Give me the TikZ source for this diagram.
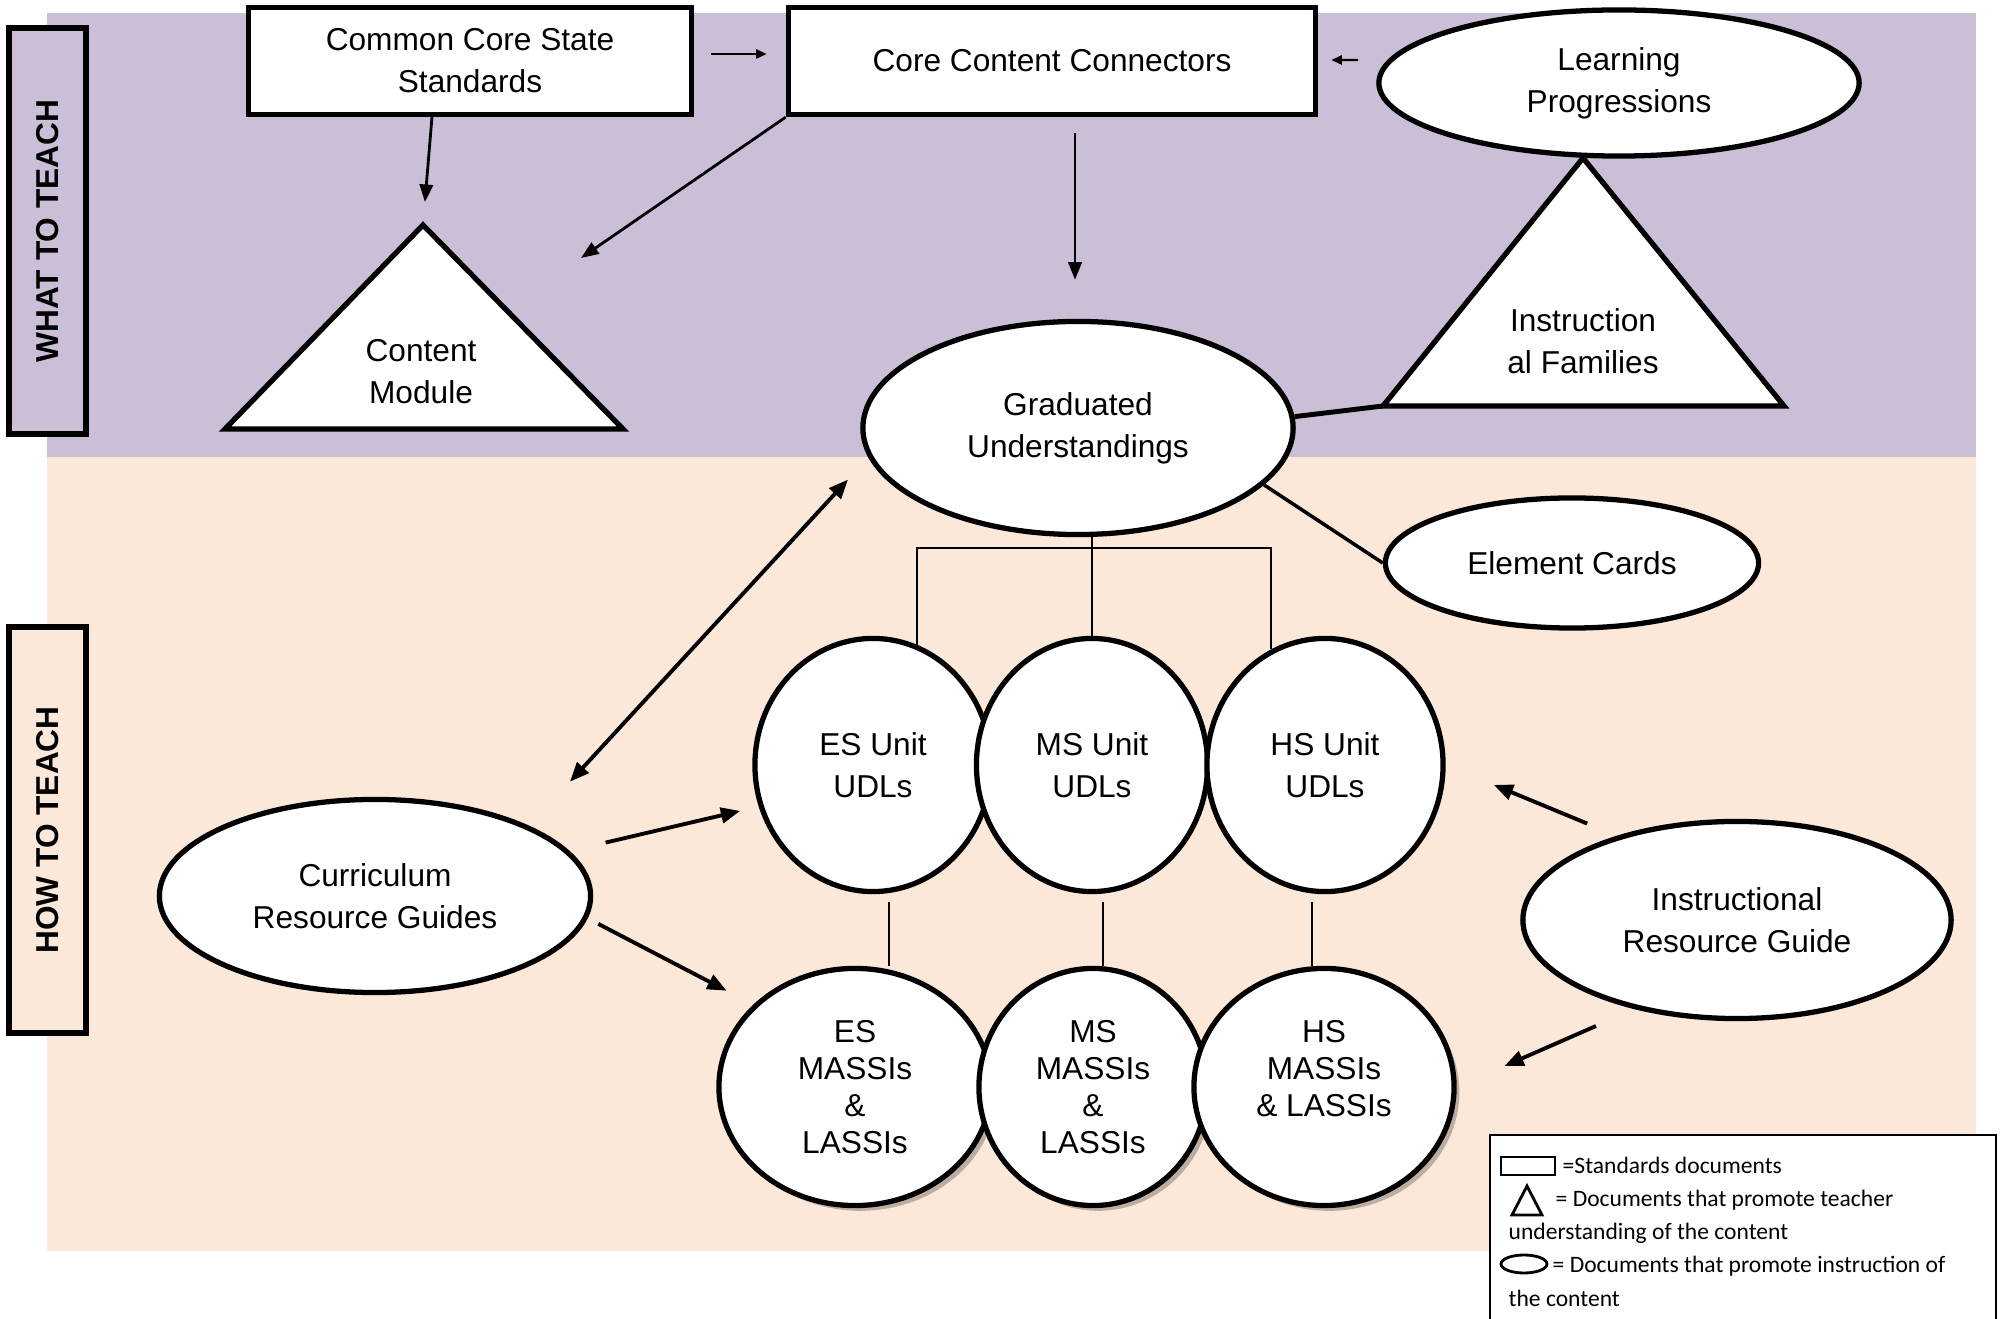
\documentclass[tikz,border=0pt]{standalone}
\usepackage{fontspec}
\setmainfont{Liberation Sans}
\newfontfamily\keyfont{Carlito}
\usetikzlibrary{shapes.geometric,arrows.meta,shadows}

\definecolor{whatC}{RGB}{203,191,216}
\definecolor{howC}{RGB}{252,232,217}

\begin{document}
\begin{tikzpicture}
  [x=0.01cm,y=-0.01cm,
   font=\fontsize{9}{12}\selectfont,
   stdN/.style={rectangle,draw,line width=1.5pt,fill=white,align=center},
   instrN/.style={ellipse,draw,line width=1.5pt,fill=white,align=center,inner sep=0pt},
   massiN/.style={font=\fontsize{9}{10.5}\selectfont,
                  drop shadow={shadow xshift=1.5pt,shadow yshift=-1.5pt,fill=black,opacity=0.25}},
   teachT/.style={draw,line width=1.5pt,fill=white,line join=miter},
   sideN/.style={draw,line width=1.5pt,rotate=90,font=\bfseries\fontsize{9}{11}\selectfont,
                 minimum width=4.06cm,minimum height=0.77cm},
   arr/.style={-{Triangle[length=5pt,width=3.8pt]},line width=0.8pt},
   bigarr/.style={-{Triangle[length=5.5pt,width=4.4pt]},line width=1.1pt},
   dblarr/.style={{Triangle[length=5.5pt,width=4.4pt]}-{Triangle[length=5.5pt,width=4.4pt]},line width=1.1pt},
   smallarr/.style={-{Triangle[length=3pt,width=2.6pt]},line width=0.6pt},
   thinL/.style={line width=0.5pt},
   keyT/.style={anchor=west,font=\keyfont\fontsize{6.7}{8}\selectfont,inner sep=0pt,
                text height=1.6ex,text depth=0.4ex}
  ]

  \useasboundingbox (0,0) rectangle (2002,1319);

  % bands
  \fill[whatC] (47,13) rectangle (1976,457);
  \fill[howC] (47,457) rectangle (1976,1251);

  \node[sideN,fill=whatC] (what) at (47.5,231) {WHAT TO TEACH};
  \node[sideN,fill=howC] (how) at (47.5,830) {HOW TO TEACH};

  % what to teach
  \node[stdN,minimum width=4.43cm,minimum height=1.07cm] (ccss) at (470,61) {Common Core State\\Standards};
  \node[stdN,minimum width=5.27cm,minimum height=1.07cm] (ccc) at (1052,61) {Core Content Connectors};

  \draw[teachT] (423,225) coordinate (cmtop) -- (225,429) -- (623,429) -- cycle;
  \node[align=center] (cm) at (421,372) {Content\\Module};
  \draw[teachT] (1583,158) coordinate (iftop) -- (1383,406) coordinate (ifleft) -- (1784,406) -- cycle;
  \node[align=center] (instf) at (1583,341) {Instruction\\al Families};

  \node[instrN,minimum width=4.80cm,minimum height=1.46cm] (lp) at (1619,83) {Learning\\Progressions};
  \node[instrN,minimum width=4.30cm,minimum height=2.13cm] (gu) at (1078,428) {Graduated\\Understandings};
  \node[instrN,minimum width=3.73cm,minimum height=1.30cm] (ec) at (1572,563) {Element Cards};

  % how to teach
  \foreach \n/\x/\w/\lv in {esu/873/2.36/ES,msu/1092/2.31/MS,hsu/1325/2.36/HS} {
     \node[instrN,minimum width=\w cm,minimum height=2.53cm] (\n) at (\x,765) {\lv{} Unit\\UDLs};
  }

  \foreach \n/\x/\w/\txt in {esm/855/2.72/{ES\\MASSIs\\\&\\LASSIs},msm/1093/2.28/{MS\\MASSIs\\\&\\LASSIs},hsm/1324/2.60/{HS\\MASSIs\\\& LASSIs\\\mbox{}}} {
     \node[instrN,massiN,minimum width=\w cm,minimum height=2.37cm] (\n) at (\x,1087) {\txt};
  }

  \node[instrN,minimum width=4.31cm,minimum height=1.93cm] (crg) at (375,896) {Curriculum\\Resource Guides};
  \node[instrN,minimum width=4.28cm,minimum height=1.97cm] (irg) at (1737,920) {Instructional\\Resource Guide};

  % links
  \draw[smallarr,shorten <=0.17cm,shorten >=0.19cm] ([yshift=0.07cm]ccss.east) -- ([yshift=0.07cm]ccc.west);
  \draw[smallarr,shorten <=0.18cm,shorten >=0.13cm] ([yshift=0.23cm]lp.west) -- ([yshift=0.01cm]ccc.east);
  \draw[arr,shorten >=0.23cm] ([xshift=-0.38cm]ccss.south) -- (cmtop);
  \coordinate (cmside) at (581,258);
  \draw[arr] (ccc.south west) -- (cmside);
  \draw[arr,shorten <=0.16cm,shorten >=0.39cm] ([xshift=0.23cm]ccc.south) -- ([xshift=0.23cm]ccc.south |- gu.north);
  \draw[line width=1.4pt] (gu.3) -- (ifleft);
  \draw[line width=1pt] (gu.-17) -- (ec.west);

  \path (gu.south) ++(0,11) coordinate (split);
  \draw[thinL] (esu.70) |- (split) -| (hsu.115);
  \draw[thinL] (msu.north |- gu.south) -- (msu.north);
  \foreach \up/\lo/\dx in {esu/esm/0.16,msu/msm/0.11,hsu/hsm/-0.13} {
     \draw[thinL] ([xshift=\dx cm,yshift=-0.08cm]\up.south) -- ([xshift=\dx cm]\up.south |- \lo.north);
  }

  \draw[dblarr,shorten <=0.6cm,shorten >=0.3cm] (crg.north east) -- (gu.188);
  \draw[bigarr,shorten <=0.37cm,shorten >=0.19cm] (crg.13) -- (esu.200);
  \draw[bigarr,shorten <=0.12cm,shorten >=0.3cm] (crg.-6) -- (esm.141);
  \draw[bigarr,shorten <=0.32cm,shorten >=0.52cm] (irg.145) -- (hsu.0);
  \draw[bigarr,shorten <=0.42cm,shorten >=0.52cm] (irg.221) -- (hsm.east);

  % key
  \draw[line width=0.7pt,fill=white] (1490,1319) -- (1490,1135) -- (1996,1135) -- (1996,1319);
  \node[draw,line width=0.8pt,minimum width=0.54cm,minimum height=0.18cm,inner sep=0pt] (keyrect) at (1528,1166) {};
  \draw[line width=0.8pt] (1527,1186) -- (1512,1215) -- (1542,1215) -- cycle;
  \node[ellipse,draw,line width=0.8pt,minimum width=0.46cm,minimum height=0.18cm,inner sep=0pt] (keyell) at (1524,1264) {};
  \node[keyT] (key1) at (1562,1162) {=Standards documents};
  \node[keyT] (key2) at (1555,1195) {= Documents that promote teacher};
  \node[keyT] (key3) at (1508,1228) {understanding of the content};
  \node[keyT] (key4) at (1552,1261) {= Documents that promote instruction of};
  \node[keyT] (key5) at (1508,1295) {the content};

\end{tikzpicture}
\end{document}
